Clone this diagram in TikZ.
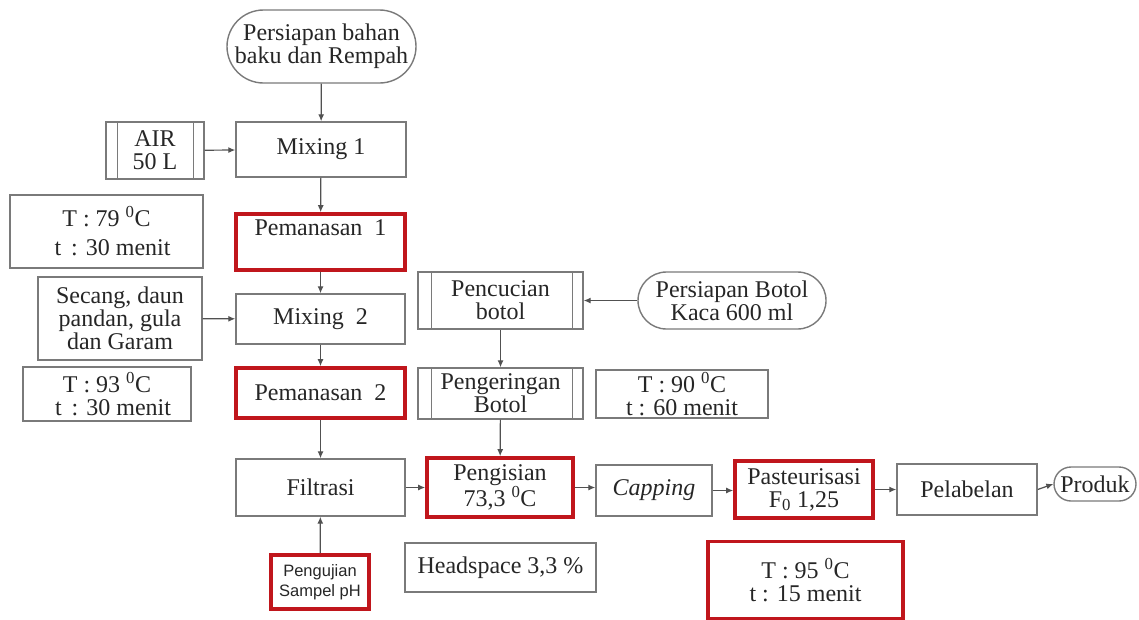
\documentclass[tikz,border=0pt]{standalone}
\usepackage{fontspec}
\setmainfont{Liberation Serif}
\newfontfamily\sansf{Liberation Sans}
\usetikzlibrary{arrows.meta,shapes.misc}
\definecolor{bgray}{HTML}{7A7A7A}
\definecolor{bred}{HTML}{C0161C}
\definecolor{tx}{HTML}{262626}
\tikzset{
  base/.style={draw=bgray, line width=1.4pt, text=tx, align=center, inner sep=2pt,
    font=\fontsize{24}{23}\selectfont},
  box/.style={base, rectangle},
  redbox/.style={base, rectangle, draw=bred, line width=3.6pt},
  term/.style={base, rounded rectangle},
  arr/.style={draw=tx!80, line width=1.2pt, -{Latex[length=7pt,width=6pt]}},
  inner/.style={draw=bgray, line width=1.4pt}
}
\begin{document}
\begin{tikzpicture}[x=1pt,y=-1pt]
\useasboundingbox (0,0) rectangle (1139,619);
% left column
\node[term, minimum width=193pt, minimum height=73pt] (start) at (321.5,46.5) {Persiapan bahan\\baku dan Rempah};
\node[box, minimum width=170pt, minimum height=55pt] (mix1) at (321,149.5) {Mixing 1};
\node[box, minimum width=98pt, minimum height=57pt] (air) at (155,150.5) {AIR\\50 L};
\node[box, minimum width=193pt, minimum height=73pt] (t79) at (106.5,231.5) {T : 79 \textsuperscript{0}C\\[6pt] \ \ t\ \,: 30 menit};
\node[redbox, minimum width=169pt, minimum height=56pt] (pem1) at (320.5,242) {Pemanasan\ \ 1\\[-2pt]\strut};
\node[box, minimum width=164pt, minimum height=83pt] (secang) at (120,318.5) {Secang, daun\\pandan, gula\\dan Garam};
\node[box, minimum width=169pt, minimum height=50pt] (mix2) at (320.5,319) {Mixing\ \ 2};
\node[box, minimum width=168pt, minimum height=54pt] (t93) at (107,394) {T : 93 \textsuperscript{0}C\\ \ \ t\ \,: 30 menit};
\node[redbox, minimum width=169pt, minimum height=50pt] (pem2) at (320.5,393) {Pemanasan\ \ 2};
\node[box, minimum width=169pt, minimum height=57pt] (filt) at (320.5,487.5) {Filtrasi};
\node[redbox, line width=4pt, minimum width=98pt, minimum height=54pt, inner sep=1pt, font=\sansf\fontsize{16.5}{20}\selectfont] (uji) at (320,582) {Pengujian\\Sampel pH};
\node[box, minimum width=191pt, minimum height=49pt] (head) at (500.5,567.5) {Headspace 3,3 \%};
% bottle column
\node[box, minimum width=165pt, minimum height=57pt] (cuci) at (500.5,300.5) {Pencucian\\botol};
\node[term, minimum width=192pt, minimum height=57pt] (botol) at (732,300.5) {Persiapan Botol\\Kaca 600 ml};
\node[box, minimum width=165pt, minimum height=51pt] (kering) at (500.5,393.5) {Pengeringan\\Botol};
\node[box, minimum width=172pt, minimum height=48pt] (t90) at (682,394) {T : 90 \textsuperscript{0}C\\t : 60 menit};
% bottom row
\node[redbox, minimum width=146pt, minimum height=59pt] (isi) at (500,487.5) {Pengisian\\73,3 \textsuperscript{0}C};
\node[box, minimum width=116pt, minimum height=51pt] (cap) at (654,490.5) {\textit{Capping}};
\node[redbox, minimum width=138pt, minimum height=57pt] (past) at (804,489.5) {Pasteurisasi\\F\textsubscript{0} 1,25};
\node[box, minimum width=140pt, minimum height=51pt] (label) at (967,489.5) {Pelabelan};
\node[term, minimum width=84pt, minimum height=34pt, inner sep=1pt] (prod) at (1095,484) {Produk};
\node[redbox, minimum width=195pt, minimum height=77pt] (t95) at (805.5,580) {T : 95 \textsuperscript{0}C\\ t : 15 menit};
% predefined-process inner lines
\draw[inner] ([xshift=12pt]air.north west) -- ([xshift=12pt]air.south west)
             ([xshift=-11pt]air.north east) -- ([xshift=-11pt]air.south east);
\draw[inner] ([xshift=14pt]cuci.north west) -- ([xshift=14pt]cuci.south west)
             ([xshift=-11pt]cuci.north east) -- ([xshift=-11pt]cuci.south east);
\draw[inner] ([xshift=14pt]kering.north west) -- ([xshift=14pt]kering.south west)
             ([xshift=-11pt]kering.north east) -- ([xshift=-11pt]kering.south east);
% connectors
\draw[arr] (start) -- (mix1);
\draw[arr] (mix1) -- (pem1);
\draw[arr] (pem1) -- (mix2);
\draw[arr] (mix2) -- (pem2);
\draw[arr] (pem2) -- (filt);
\draw[arr] (air) -- (mix1);
\draw[arr] (secang) -- (mix2);
\draw[arr] (uji) -- (filt);
\draw[arr] (filt) -- (isi);
\draw[arr] (botol) -- (cuci);
\draw[arr] (cuci) -- (kering);
\draw[arr] (kering) -- (isi);
\draw[arr] (isi.east) -- (isi.east -| cap.west);
\draw[arr] (cap) -- (cap -| past.west);
\draw[arr] (past) -- (past -| label.west);
\draw[arr] (label.east) -- (prod.west);
\end{tikzpicture}
\end{document}
